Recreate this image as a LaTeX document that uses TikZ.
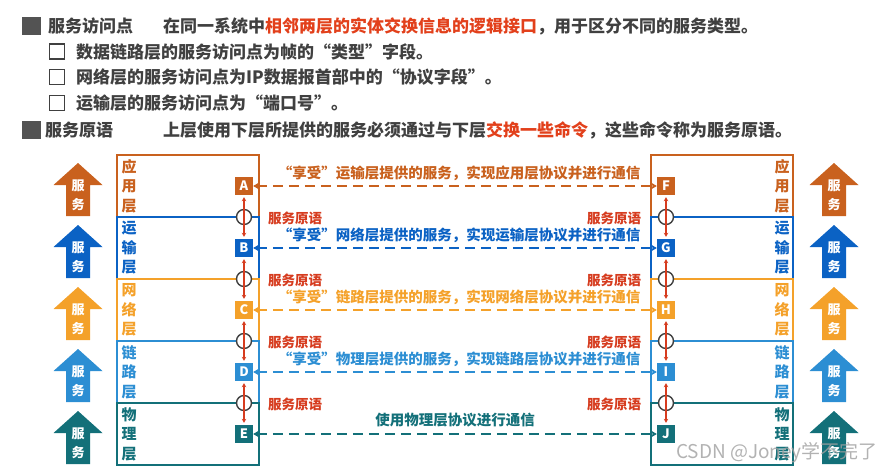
\documentclass[tikz,border=0pt]{standalone}
\usepackage{fontspec}
\setmainfont{Noto Sans CJK SC}
\usepackage{xcolor}
\usetikzlibrary{arrows.meta}
\definecolor{appc}{HTML}{C9611E}
\definecolor{trnc}{HTML}{0B62C4}
\definecolor{netc}{HTML}{F4A12A}
\definecolor{lnkc}{HTML}{2C8ED3}
\definecolor{phyc}{HTML}{137079}
\definecolor{primc}{HTML}{D63C1F}
\definecolor{hdred}{HTML}{E2401B}
\definecolor{hdgray}{HTML}{404040}
\tikzset{
  hd/.style={anchor=west,inner sep=0pt,text=hdgray,font=\fontsize{17}{20}\selectfont\bfseries},
  bul/.style={fill=hdgray!90,minimum width=19pt,minimum height=18pt,inner sep=0pt},
  sub/.style={draw=hdgray,line width=1.4pt,minimum size=15pt,inner sep=0pt},
  lay/.style={draw=#1,line width=1.8pt,minimum width=142pt,minimum height=62pt,inner sep=0pt},
  ltr/.style={fill=#1,text=white,minimum size=18pt,inner sep=0pt,font=\fontsize{13}{13}\selectfont\bfseries},
  vlab/.style={text=#1,align=center,inner sep=0pt,font=\fontsize{15}{19.5}\selectfont\bfseries},
  sap/.style={circle,draw=hdgray,fill=white,line width=1.4pt,minimum size=15pt,inner sep=0pt},
  prm/.style={primc,line width=1.2pt,{Stealth[length=4pt,width=4.5pt]}-{Stealth[length=4pt,width=4.5pt]},shorten <=2pt,shorten >=2pt},
  ptx/.style={text=primc,inner sep=0pt,font=\fontsize{13.5}{14}\selectfont\bfseries},
  com/.style={#1,line width=2.3pt,dash pattern=on 10pt off 6pt,{Stealth[length=6pt,width=7pt]}-{Stealth[length=6pt,width=7pt]}},
  ctx/.style={text=#1,inner sep=0pt,font=\fontsize{14.5}{15}\selectfont\bfseries},
  stx/.style={text=white,align=center,inner sep=0pt,font=\fontsize{13}{19}\selectfont\bfseries}
}
\newcommand{\svc}[4]{\fill[#4] (#2-24.5,#3+22) -- (#2,#3) -- (#2+24.5,#3+22) -- (#2+12,#3+22) -- (#2+12,#3+53) -- (#2-12,#3+53) -- (#2-12,#3+22) -- cycle;
  \node[stx] (#1) at (#2,#3+32) {服\\务};}
\newcommand{\layer}[5]{\node[lay=#2] (box#3) at (188,#1) {};
  \node[lay=#2] (box#4) at (722,#1) {};
  \node[vlab=#2] (lab#3) at (129,#1) {#5};
  \node[vlab=#2] (lab#4) at (782,#1) {#5};
  \node[ltr=#2] (#3) at (244,#1) {#3};
  \node[ltr=#2] (#4) at (666,#1) {#4};}
\newcommand{\prim}[5]{\node[sap] (s#2) at (244,#1) {};
  \node[sap] (s#4) at (666,#1) {};
  \draw[prm] (#2) -- (#3);
  \draw[prm] (#4) -- (#5);
  \node[ptx] (p#2) at (295,#1+1) {服务原语};
  \node[ptx] (p#4) at (614,#1+1) {服务原语};}

\begin{document}
\begin{tikzpicture}[x=1pt,y=-1pt]
\useasboundingbox (0,0) rectangle (892,474);
\node[bul] (b1) at (31.5,26) {}; \node[hd] (h1) at (48,26) {服务访问点};
\node[hd] (h1t) at (163,26) {在同一系统中\textcolor{hdred}{相邻两层的实体交换信息的逻辑接口}，用于区分不同的服务类型。};
\node[sub] (q2) at (57,51.5) {}; \node[hd] (h2) at (76,52) {数据链路层的服务访问点为帧的“类型”字段。};
\node[sub] (q3) at (57,77) {}; \node[hd] (h3) at (76,77) {网络层的服务访问点为IP数据报首部中的“协议字段”。};
\node[sub] (q4) at (57,103) {}; \node[hd] (h4) at (76,103) {运输层的服务访问点为“端口号”。};
\node[bul] (b5) at (31.5,130) {}; \node[hd] (h5) at (45,130) {服务原语};
\node[hd] (h5t) at (163,130) {上层使用下层所提供的服务必须通过与下层\textcolor{hdred}{交换一些命令}，这些命令称为服务原语。};

\layer{186}{appc}{A}{F}{应\\用\\层}
\layer{248}{trnc}{B}{G}{运\\输\\层}
\layer{310}{netc}{C}{H}{网\\络\\层}
\layer{372}{lnkc}{D}{I}{链\\路\\层}
\layer{434}{phyc}{E}{J}{物\\理\\层}

\prim{217}{A}{B}{F}{G}
\prim{279}{B}{C}{G}{H}
\prim{341}{C}{D}{H}{I}
\prim{403}{D}{E}{I}{J}

\draw[com=appc] (A) -- (F); \node[ctx=appc] (c1) at (459,173.5) {“享受”运输层提供的服务，实现应用层协议并进行通信};
\draw[com=trnc] (B) -- (G); \node[ctx=trnc] (c2) at (459,235.5) {“享受”网络层提供的服务，实现运输层协议并进行通信};
\draw[com=netc] (C) -- (H); \node[ctx=netc] (c3) at (459,297.5) {“享受”链路层提供的服务，实现网络层协议并进行通信};
\draw[com=lnkc] (D) -- (I); \node[ctx=lnkc] (c4) at (459,359.5) {“享受”物理层提供的服务，实现链路层协议并进行通信};
\draw[com=phyc] (E) -- (J); \node[ctx=phyc] (c5) at (455,420) {使用物理层协议进行通信};

\svc{sl1}{78}{163}{appc} \svc{sr1}{834}{163}{appc}
\svc{sl2}{78}{225}{trnc} \svc{sr2}{834}{225}{trnc}
\svc{sl3}{78}{287}{netc} \svc{sr3}{834}{287}{netc}
\svc{sl4}{78}{349}{lnkc} \svc{sr4}{834}{349}{lnkc}
\svc{sl5}{78}{411}{phyc} \svc{sr5}{834}{411}{phyc}

\node[text=gray!75,opacity=0.8,inner sep=0pt,font=\fontsize{19}{20}\selectfont] (wm) at (777,453) {CSDN @Joney学不完了};
\end{tikzpicture}
\end{document}
